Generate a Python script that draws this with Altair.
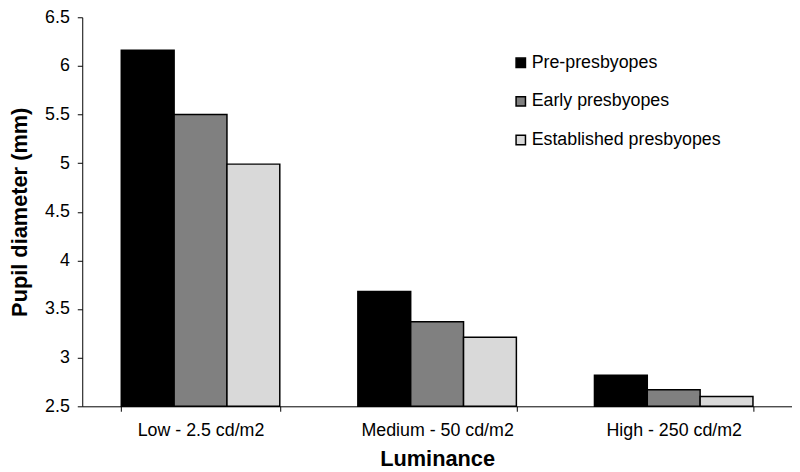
import altair as alt
import pandas as pd

categories = ["Low - 2.5 cd/m2", "Medium - 50 cd/m2", "High - 250 cd/m2"]
groups = ["Pre-presbyopes", "Early presbyopes", "Established presbyopes"]
pre = [6.16, 3.68, 2.82]
early = [5.50, 3.37, 2.67]
established = [4.99, 3.21, 2.60]
colors = ["#000000", "#808080", "#d9d9d9"]

rows = []
for g, vals in zip(groups, [pre, early, established]):
    for c, v in zip(categories, vals):
        rows.append({"Luminance": c, "Group": g, "Value": v})
df = pd.DataFrame(rows)

FONT = "Liberation Sans"

chart = alt.Chart(df).mark_bar(stroke="black", strokeWidth=1.5).encode(
    x=alt.X("Luminance:N", sort=categories, title="Luminance",
            scale=alt.Scale(paddingInner=0.33, paddingOuter=0.165),
            axis=alt.Axis(labelAngle=0, tickBand="extent", labelFontSize=18,
                          labelPadding=10, titleFontSize=22, titleFontWeight="bold",
                          titlePadding=10, domainColor="black", tickColor="black",
                          tickSize=5, labelColor="black", titleColor="black")),
    xOffset=alt.XOffset("Group:N", sort=groups),
    y=alt.Y("Value:Q", title="Pupil diameter (mm)",
            scale=alt.Scale(domain=[2.5, 6.5], nice=False, zero=False),
            axis=alt.Axis(values=[2.5, 3, 3.5, 4, 4.5, 5, 5.5, 6, 6.5],
                          format="~g", grid=False, labelFontSize=18,
                          labelPadding=8, titleFontSize=22, titleFontWeight="bold",
                          titlePadding=13, domainColor="black", tickColor="black",
                          tickSize=5, labelColor="black", titleColor="black")),
    y2=alt.datum(2.5),
    color=alt.Color("Group:N", sort=groups,
                    scale=alt.Scale(domain=groups, range=colors),
                    legend=alt.Legend(title=None, orient="none", legendX=434, legendY=37,
                                      symbolType="square", symbolSize=90,
                                      symbolStrokeColor="black", symbolStrokeWidth=1.5,
                                      labelFontSize=18, labelColor="black",
                                      labelLimit=0, rowPadding=21, labelOffset=2)),
).properties(
    width=717, height=393,
    autosize=alt.AutoSizeParams(type="none"),
    padding={"left": 75, "top": 7, "right": 0, "bottom": 64},
).configure(
    font=FONT,
).configure_view(stroke=None)

chart.save("out.html", embed_options={"renderer": "svg", "actions": False})
